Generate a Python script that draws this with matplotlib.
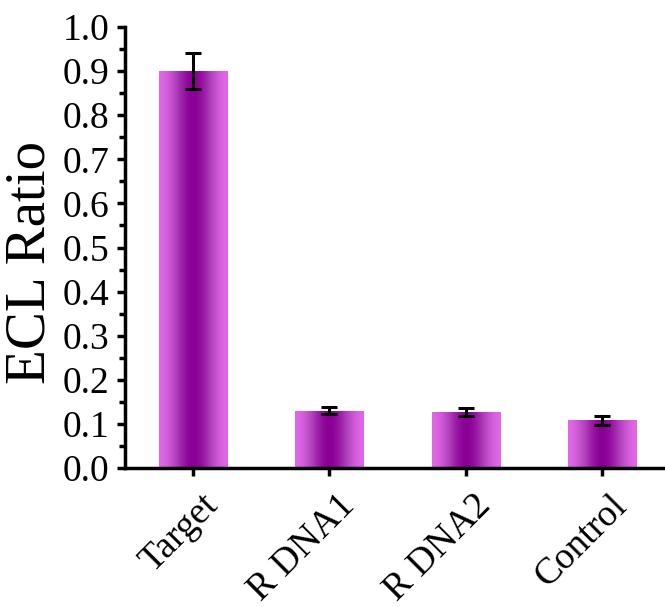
import numpy as np
import matplotlib.pyplot as plt
import matplotlib.transforms as mtransforms
from matplotlib.colors import LinearSegmentedColormap
from matplotlib.ticker import MultipleLocator

# ===== data =====
labels = ['Target', 'R DNA1', 'R DNA2', 'Control']
ratio = [0.90, 0.130, 0.127, 0.108]
err = [0.040, 0.008, 0.008, 0.011]

plt.rcParams['font.family'] = ['Liberation Serif', 'DejaVu Serif']

fig = plt.figure(figsize=(6.65, 6.07), dpi=100)
ax = fig.add_axes([0.188, 0.229, 0.8195, 0.7265])

x = np.arange(len(labels))
width = 0.5

# bars with a horizontal gradient (light edges, dark centre)
cmap = LinearSegmentedColormap.from_list('bar', ['#E068E6', '#B040BA', '#8A0096'])
s = np.linspace(-1, 1, 256)
t = 1 - np.abs(s)
t = t * t * (3 - 2 * t)
grad = t[np.newaxis, :]

bars = ax.bar(x, ratio, width, color='none', edgecolor='none', zorder=2)
for b in bars:
    x0, y0 = b.get_x(), b.get_y()
    im = ax.imshow(grad, cmap=cmap, aspect='auto', vmin=0, vmax=1,
                   extent=(x0, x0 + b.get_width(), y0, y0 + b.get_height()),
                   zorder=2, interpolation='bilinear')
    im.set_clip_path(b)

ax.errorbar(x, ratio, yerr=err, fmt='none', ecolor='black', elinewidth=2.2,
            capsize=6, capthick=2.2, zorder=3)

ax.set_xlim(-0.5, 3.5)
ax.set_ylim(0, 1.0)
ax.yaxis.set_major_locator(MultipleLocator(0.1))
ax.yaxis.set_minor_locator(MultipleLocator(0.05))
ax.set_xticks(x)
ax.set_yticks(np.arange(0, 1.01, 0.1))
ax.set_yticklabels(['%.1f' % v for v in np.arange(0, 1.01, 0.1)])

ax.spines['top'].set_visible(False)
ax.spines['right'].set_visible(False)
for sp in ('left', 'bottom'):
    ax.spines[sp].set_linewidth(2.5)
ax.tick_params(axis='both', which='major', direction='out', length=6, width=2.5,
               labelsize=27, pad=5)
ax.tick_params(axis='y', which='minor', direction='out', length=4, width=2.5)

# rotated category labels, nudged right/down
ax.set_xticklabels(labels, rotation=45, ha='right', va='top',
                   rotation_mode='anchor')
shift = mtransforms.ScaledTranslation(0.08, -0.05, fig.dpi_scale_trans)
for lab in ax.get_xticklabels():
    lab.set_transform(lab.get_transform() + shift)

ax.set_ylabel('ECL Ratio', fontsize=41)
ax.yaxis.set_label_coords(-0.125, 0.467)

plt.savefig('out.png', dpi=100)
